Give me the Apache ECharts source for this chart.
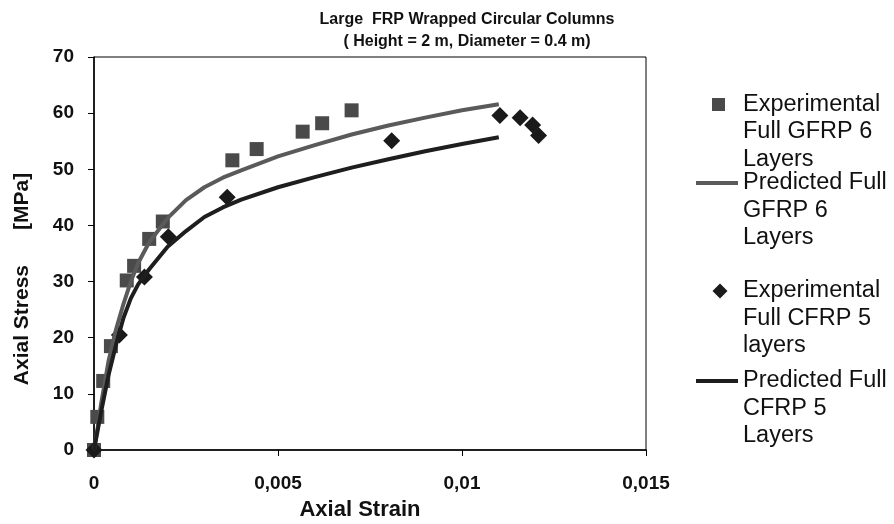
<!DOCTYPE html>
<html>
<head>
<meta charset="utf-8">
<title>Large FRP Wrapped Circular Columns</title>
<script src="https://cdn.jsdelivr.net/npm/echarts@6/dist/echarts.min.js"></script>
<style>
  html, body { margin: 0; padding: 0; background: #fff; }
  #chart { width: 894px; height: 524px; }
</style>
</head>
<body>
<div id="chart"></div>
<script>
// Stress-strain data for large FRP wrapped circular columns: [axial strain, axial stress (MPa)]
const expGfrp6 = [
  [0, 0], [0.00009, 5.9], [0.00025, 12.3], [0.00046, 18.5], [0.00089, 30.2],
  [0.00109, 32.8], [0.0015, 37.6], [0.00187, 40.7], [0.00376, 51.6],
  [0.00442, 53.6], [0.00567, 56.7], [0.0062, 58.2], [0.007, 60.5]
];
const predGfrp6 = [
  [0, 0], [0.0001, 4], [0.0002, 8.5], [0.0004, 16], [0.0006, 21.5], [0.0008, 26],
  [0.001, 30], [0.0012, 33.3], [0.0015, 37], [0.002, 41.3], [0.0025, 44.5],
  [0.003, 46.8], [0.0035, 48.5], [0.004, 49.8], [0.005, 52.3], [0.006, 54.3],
  [0.007, 56.2], [0.008, 57.8], [0.009, 59.2], [0.01, 60.5], [0.011, 61.6]
];
const expCfrp5 = [
  [0, 0], [0.00069, 20.5], [0.00137, 30.8], [0.00202, 38.0], [0.00362, 45.0],
  [0.00809, 55.1], [0.01103, 59.6], [0.01158, 59.2], [0.01192, 57.9], [0.01208, 56.0]
];
const predCfrp5 = [
  [0, 0], [0.0001, 3.5], [0.0002, 7], [0.0004, 13.5], [0.0006, 18.8], [0.0008, 23.5],
  [0.001, 27], [0.0012, 29.5], [0.0015, 32.2], [0.002, 36.2], [0.0025, 39],
  [0.003, 41.5], [0.0035, 43.2], [0.004, 44.6], [0.005, 46.8], [0.006, 48.6],
  [0.007, 50.3], [0.008, 51.8], [0.009, 53.2], [0.01, 54.5], [0.011, 55.7]
];

const seriesNames = [
  'Experimental\nFull GFRP 6\nLayers',
  'Predicted Full\nGFRP 6\nLayers',
  'Experimental\nFull CFRP 5\nlayers',
  'Predicted Full\nCFRP 5\nLayers'
];
const titleLines = ['Large  FRP Wrapped Circular Columns', '( Height = 2 m, Diameter = 0.4 m)'];
const xAxisTitle = 'Axial Strain';
const yAxisTitle = 'Axial Stress      [MPa]';

const FONT = '"Liberation Sans", Arial, sans-serif';
const LH = 27.5;        // legend line height
const ITEM_H = 3 * LH;  // legend item height (three text lines)
const ICON_Y = LH / 2;  // icon sits beside the first text line

// Legend icons: the visible shape is placed next to the first line; the two
// zero-length segments at the corners only fix the icon's box to w x ITEM_H.
function iconBox(w, body) {
  return 'path://M0 0L0 0' + body + 'M' + w + ' ' + ITEM_H + 'L' + w + ' ' + ITEM_H;
}
const squareIcon = iconBox(13, 'M0 ' + (ICON_Y - 6.5) + 'L13 ' + (ICON_Y - 6.5) + 'L13 ' + (ICON_Y + 6.5) + 'L0 ' + (ICON_Y + 6.5) + 'Z');
const diamondIcon = iconBox(16, 'M8 ' + (ICON_Y - 7.5) + 'L15.5 ' + ICON_Y + 'L8 ' + (ICON_Y + 7.5) + 'L0.5 ' + ICON_Y + 'Z');
const lineIcon = iconBox(42, 'M0 ' + (ICON_Y - 2) + 'L42 ' + (ICON_Y - 2) + 'L42 ' + (ICON_Y + 2) + 'L0 ' + (ICON_Y + 2) + 'Z');

function legendBlock(name, icon, w, firstLineY, left, textPadLeft) {
  return {
    data: [{ name: name, icon: icon }],
    orient: 'vertical',
    top: firstLineY - ICON_Y,
    left: left,
    padding: 0,
    itemWidth: w,
    itemHeight: ITEM_H,
    selectedMode: false,
    itemStyle: { borderWidth: 0 },
    textStyle: {
      fontFamily: FONT, fontSize: 23.5, color: '#111',
      lineHeight: LH, padding: [0, 0, 0, textPadLeft]
    }
  };
}

const chart = echarts.init(document.getElementById('chart'), null, { renderer: 'canvas' });

chart.setOption({
  backgroundColor: '#fff',
  animation: false,
  title: {
    text: titleLines.join('\n'),
    left: 467,
    textAlign: 'center',
    top: 9,
    padding: 0,
    textStyle: { fontFamily: FONT, fontSize: 16, fontWeight: 'bold', color: '#111', lineHeight: 21.5 }
  },
  grid: {
    left: 94, right: 248, top: 57, bottom: 74,
    show: true, borderColor: '#000', borderWidth: 1, backgroundColor: '#fff'
  },
  legend: [
    legendBlock(seriesNames[0], squareIcon, 13, 104.5, 712, 13),
    legendBlock(seriesNames[1], lineIcon, 42, 183, 696, 0),
    legendBlock(seriesNames[2], diamondIcon, 16, 291, 712, 10),
    legendBlock(seriesNames[3], lineIcon, 42, 381, 696, 0)
  ],
  xAxis: {
    type: 'value',
    min: 0, max: 0.015, interval: 0.005,
    splitLine: { show: false },
    axisLine: { onZero: false, lineStyle: { color: '#000', width: 1.5 } },
    axisTick: { show: true, inside: false, length: 6, lineStyle: { color: '#000' } },
    axisLabel: {
      margin: 24, color: '#111', fontFamily: FONT, fontSize: 19, fontWeight: 'bold',
      formatter: v => String(+v.toFixed(3)).replace('.', ',')
    }
  },
  yAxis: {
    type: 'value',
    min: 0, max: 70, interval: 10,
    splitLine: { show: false },
    axisLine: { onZero: false, lineStyle: { color: '#000', width: 1.5 } },
    axisTick: { show: true, inside: false, length: 6, lineStyle: { color: '#000' } },
    axisLabel: { margin: 20, color: '#111', fontFamily: FONT, fontSize: 19, fontWeight: 'bold' }
  },
  graphic: [
    {
      type: 'text', x: 360, y: 510,
      style: {
        text: xAxisTitle, fill: '#111', font: 'bold 22px ' + FONT,
        textAlign: 'center', textVerticalAlign: 'middle'
      }
    },
    {
      type: 'text', x: 22, y: 279, rotation: Math.PI / 2,
      style: {
        text: yAxisTitle, fill: '#111', font: 'bold 21px ' + FONT,
        textAlign: 'center', textVerticalAlign: 'middle'
      }
    }
  ],
  series: [
    {
      name: seriesNames[0], type: 'scatter', data: expGfrp6,
      symbol: 'rect', symbolSize: 14,
      itemStyle: { color: '#4a4a4a', opacity: 1 }
    },
    {
      name: seriesNames[1], type: 'line', data: predGfrp6,
      showSymbol: false, symbol: 'none', smooth: false,
      lineStyle: { color: '#5a5a5a', width: 4 },
      itemStyle: { color: '#5a5a5a' }
    },
    {
      name: seriesNames[2], type: 'scatter', data: expCfrp5,
      symbol: 'diamond', symbolSize: 17,
      itemStyle: { color: '#1a1a1a', opacity: 1 }
    },
    {
      name: seriesNames[3], type: 'line', data: predCfrp5,
      showSymbol: false, symbol: 'none', smooth: false,
      lineStyle: { color: '#1e1e1e', width: 4 },
      itemStyle: { color: '#1e1e1e' }
    }
  ]
});
</script>
</body>
</html>
